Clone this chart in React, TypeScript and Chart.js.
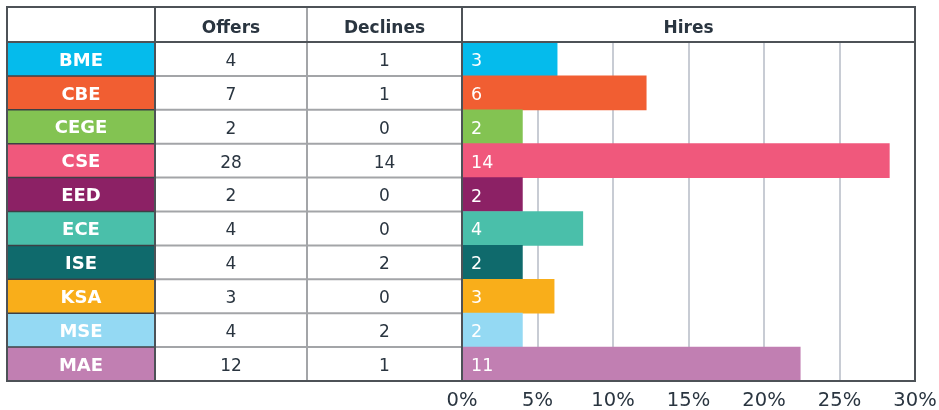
import React, { useEffect, useRef } from "react";
import { Chart, registerables } from "chart.js";

Chart.register(...registerables);

const departments = ["BME", "CBE", "CEGE", "CSE", "EED", "ECE", "ISE", "KSA", "MSE", "MAE"];
const offers = [4, 7, 2, 28, 2, 4, 4, 3, 4, 12];
const declines = [1, 1, 0, 14, 0, 0, 2, 0, 2, 1];
const hires = [3, 6, 2, 14, 2, 4, 2, 3, 2, 11];
const hiresPercent = [6.3, 12.2, 4.0, 28.3, 4.0, 8.0, 4.0, 6.1, 4.0, 22.4];
const columnHeaders = ["Offers", "Declines", "Hires"];
const colors = [
  "#05bbec",
  "#f15e32",
  "#83c352",
  "#f0587c",
  "#8c2165",
  "#4abfaa",
  "#0f6a6c",
  "#f9ae1a",
  "#94d9f3",
  "#c17fb2",
];

const TEXT = "#2a3540";
const FONT = '"DejaVu Sans", sans-serif';
const COL_X = [7, 155, 307];
const TABLE_TOP = 7;

const tablePlugin = {
  id: "tablePlugin",
  afterDatasetsDraw(chart: any) {
    const ctx = chart.ctx as CanvasRenderingContext2D;
    const yScale = chart.scales.y;
    const { top, bottom, left, right } = chart.chartArea;
    const n = departments.length;
    const h = (bottom - top) / n;
    ctx.save();

    departments.forEach((d, i) => {
      const yc = yScale.getPixelForValue(i);
      const y0 = yc - h / 2;
      ctx.fillStyle = colors[i];
      ctx.fillRect(COL_X[0], y0, COL_X[1] - COL_X[0], h);
      ctx.fillStyle = "#ffffff";
      ctx.font = `bold 18px ${FONT}`;
      ctx.textAlign = "center";
      ctx.textBaseline = "middle";
      ctx.fillText(d, (COL_X[0] + COL_X[1]) / 2, yc + 2);

      ctx.fillStyle = TEXT;
      ctx.font = `17px ${FONT}`;
      ctx.fillText(String(offers[i]), (COL_X[1] + COL_X[2]) / 2, yc + 2.5);
      ctx.fillText(String(declines[i]), (COL_X[2] + left) / 2, yc + 2.5);

      ctx.fillStyle = "#ffffff";
      ctx.font = `17.5px ${FONT}`;
      ctx.textAlign = "left";
      ctx.fillText(String(hires[i]), left + 9, yc + 2.5);
    });

    ctx.fillStyle = TEXT;
    ctx.font = `bold 17px ${FONT}`;
    ctx.textAlign = "center";
    ctx.textBaseline = "middle";
    const hy = (TABLE_TOP + top) / 2 + 4;
    ctx.fillText(columnHeaders[0], (COL_X[1] + COL_X[2]) / 2, hy);
    ctx.fillText(columnHeaders[1], (COL_X[2] + left) / 2, hy);
    ctx.fillText(columnHeaders[2], (left + right) / 2, hy);

    ctx.lineWidth = 2;
    ctx.strokeStyle = "#a3a5a8";
    for (let i = 1; i < n; i++) {
      const yy = top + i * h;
      ctx.beginPath();
      ctx.moveTo(COL_X[1], yy);
      ctx.lineTo(left, yy);
      ctx.stroke();
    }
    ctx.strokeStyle = "#3c4045";
    ctx.lineWidth = 1.5;
    for (let i = 1; i < n; i++) {
      const yy = top + i * h;
      ctx.beginPath();
      ctx.moveTo(COL_X[0], yy);
      ctx.lineTo(COL_X[1], yy);
      ctx.stroke();
    }
    ctx.lineWidth = 2;
    ctx.strokeStyle = "#a3a5a8";
    ctx.beginPath();
    ctx.moveTo(COL_X[2], TABLE_TOP);
    ctx.lineTo(COL_X[2], bottom);
    ctx.stroke();
    ctx.strokeStyle = "#4d5257";
    ctx.beginPath();
    ctx.moveTo(COL_X[1], TABLE_TOP);
    ctx.lineTo(COL_X[1], bottom);
    ctx.stroke();
    ctx.beginPath();
    ctx.moveTo(left, TABLE_TOP);
    ctx.lineTo(left, bottom);
    ctx.stroke();
    ctx.beginPath();
    ctx.moveTo(COL_X[0], top);
    ctx.lineTo(right, top);
    ctx.stroke();
    ctx.strokeRect(COL_X[0], TABLE_TOP, right - COL_X[0], bottom - TABLE_TOP);

    ctx.restore();
  },
};

export default function App() {
  const ref = useRef<HTMLCanvasElement | null>(null);

  useEffect(() => {
    if (!ref.current) return;
    const chart = new Chart(ref.current, {
      type: "bar",
      data: {
        labels: departments,
        datasets: [
          {
            data: hiresPercent,
            backgroundColor: colors,
            borderWidth: 0,
            barPercentage: 1,
            categoryPercentage: 1,
          },
        ],
      },
      options: {
        indexAxis: "y",
        animation: false,
        responsive: false,
        maintainAspectRatio: false,
        devicePixelRatio: 1,
        layout: { padding: { left: 462, top: 42, right: 24, bottom: 0 } },
        plugins: {
          legend: { display: false },
          tooltip: { enabled: false },
          title: { display: false },
        },
        scales: {
          x: {
            min: 0,
            max: 30,
            ticks: {
              stepSize: 5,
              callback: (v: any) => `${v}%`,
              color: TEXT,
              font: { family: FONT, size: 19.5 },
              padding: 8,
              maxRotation: 0,
            },
            grid: { color: "#c8ccd4", lineWidth: 2, drawTicks: false },
            border: { display: false },
            afterFit: (scale: any) => {
              scale.height = 29;
              scale.paddingLeft = 0;
              scale.paddingRight = 0;
            },
          },
          y: {
            display: false,
          },
        },
      },
      plugins: [tablePlugin],
    } as any);
    return () => chart.destroy();
  }, []);

  return (
    <div style={{ position: "fixed", left: 0, top: 0, width: 939, height: 410, background: "#ffffff" }}>
      <canvas ref={ref} width={939} height={410} />
    </div>
  );
}
